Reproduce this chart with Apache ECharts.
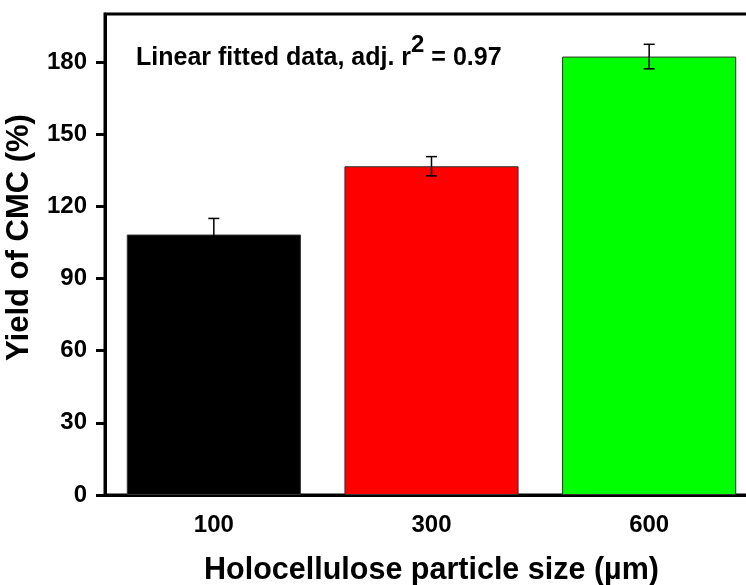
<!DOCTYPE html>
<html>
<head>
<meta charset="utf-8">
<script src="https://cdn.jsdelivr.net/npm/echarts@6/dist/echarts.min.js"></script>
<style>
  html, body { margin: 0; padding: 0; background: #fff; }
  #chart { width: 746px; height: 585px; }
</style>
</head>
<body>
<div id="chart"></div>
<script>
// particle sizes (um) and CMC yield (%) with error
const sizes = ['100', '300', '600'];
const yields = [108.3, 136.7, 182.3];
const errors = [6.7, 4.0, 5.1];
const barColors = ['#000000', '#ff0000', '#00ff00'];
const yTicks = [0, 30, 60, 90, 120, 150, 180];

const FONT = '"Liberation Sans", Arial, sans-serif';

const chart = echarts.init(document.getElementById('chart'));

// error bar data: [index, low, high]
const errData = sizes.map((s, i) => [i, yields[i] - errors[i], yields[i] + errors[i]]);

const option = {
  backgroundColor: '#fff',
  animation: false,
  grid: {
    left: 105,
    top: 14,
    right: -12,
    bottom: 90,
    outerBoundsMode: 'none',
    containLabel: false,
    show: true,
    borderColor: '#000',
    borderWidth: 3
  },
  xAxis: {
    type: 'category',
    data: sizes,
    name: 'Holocellulose particle size (µm)',
    nameLocation: 'middle',
    nameGap: 60,
    nameTextStyle: { fontFamily: FONT, fontWeight: 'bold', fontSize: 30.5, color: '#000' },
    axisLine: { lineStyle: { color: '#000', width: 3 } },
    axisTick: { alignWithLabel: true, length: 10, lineStyle: { width: 3, color: '#000' } },
    axisLabel: { fontFamily: FONT, fontWeight: 'bold', fontSize: 24, color: '#000', margin: 18 },
    splitLine: { show: false }
  },
  yAxis: {
    type: 'value',
    min: 0,
    max: 200,
    interval: 30,
    name: 'Yield of CMC (%)',
    nameLocation: 'middle',
    nameGap: 70,
    nameTextStyle: {
      fontFamily: FONT, fontWeight: 'bold', fontSize: 31, color: '#000',
      padding: [0, 0, 0, 34]
    },
    axisLine: { show: true, lineStyle: { color: '#000', width: 3 } },
    axisTick: { show: true, length: 9, customValues: yTicks, lineStyle: { width: 3, color: '#000' } },
    axisLabel: {
      fontFamily: FONT, fontWeight: 'bold', fontSize: 24, color: '#000', margin: 18,
      customValues: yTicks
    },
    splitLine: { show: false }
  },
  graphic: [
    {
      type: 'text',
      left: 136,
      top: 33,
      z: 10,
      style: {
        text: '{a|Linear fitted data, adj. r}{s|2}{a| = 0.97}',
        rich: {
          a: { fontFamily: FONT, fontWeight: 'bold', fontSize: 25, fill: '#000' },
          s: { fontFamily: FONT, fontWeight: 'bold', fontSize: 24, fill: '#000', padding: [0, 0, 26, 0] }
        }
      }
    }
  ],
  series: [
    {
      type: 'bar',
      barWidth: '80%',
      data: yields.map((v, i) => ({
        value: v,
        itemStyle: { color: barColors[i], borderColor: '#333', borderWidth: 1 }
      }))
    },
    {
      type: 'custom',
      z: 5,
      data: errData,
      renderItem: (params, api) => {
        const idx = api.value(0);
        const lo = api.coord([idx, api.value(1)]);
        const hi = api.coord([idx, api.value(2)]);
        const cap = 5.5;
        const style = { stroke: '#000', lineWidth: 1.5 };
        return {
          type: 'group',
          children: [
            { type: 'line', shape: { x1: hi[0], y1: hi[1], x2: lo[0], y2: lo[1] }, style },
            { type: 'line', shape: { x1: hi[0] - cap, y1: hi[1], x2: hi[0] + cap, y2: hi[1] }, style },
            { type: 'line', shape: { x1: lo[0] - cap, y1: lo[1], x2: lo[0] + cap, y2: lo[1] }, style }
          ]
        };
      }
    }
  ]
};

chart.setOption(option);
</script>
</body>
</html>
